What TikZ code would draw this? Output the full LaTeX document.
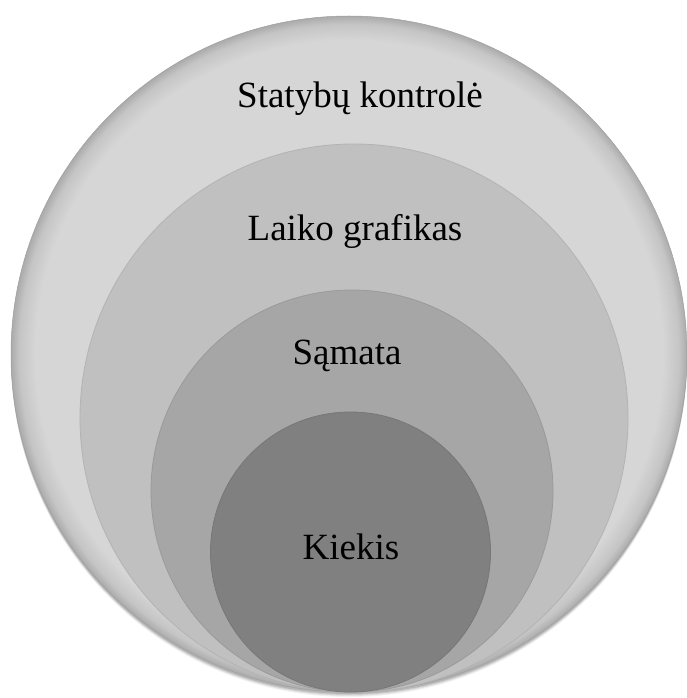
\documentclass[tikz,border=0pt]{standalone}
\usepackage{fontspec}
\setmainfont{Liberation Serif}
\definecolor{ringA}{HTML}{D6D6D6}
\definecolor{ringB}{HTML}{C0C0C0}
\definecolor{ringC}{HTML}{A6A6A6}
\definecolor{ringD}{HTML}{808080}
\pgfdeclareradialshading{rimshade}{\pgfpoint{0bp}{0bp}}{%
  color(0bp)=(ringA); color(23.2bp)=(ringA); color(24.4bp)=(ringA!92!black);
  color(25bp)=(ringA!80!black); color(50bp)=(ringA!80!black)}
\tikzset{
  disc/.style={circle, inner sep=0pt, outer sep=0pt},
  lbl/.style={anchor=base, font=\fontsize{37}{42}\selectfont, text=black}
}
\begin{document}
\begin{tikzpicture}[x=1pt,y=-1pt]
\useasboundingbox (0,0) rectangle (686,698);
% soft bottom shadow
\foreach \d/\o in {5/0.05,4/0.07,3/0.09,2/0.12}{
  \fill[black,opacity=\o] (349,354+\d) circle[radius=338pt];
}
\node[disc, minimum size=676pt, shading=rimshade] (outer) at (349,354) {};
\draw[gray!75, line width=0.5pt] (outer.center) circle[radius=338pt];
\node[disc, minimum size=548pt, fill=ringB, draw=ringB!93!black, line width=0.8pt] (second) at (354,418) {};
\node[disc, minimum size=402pt, fill=ringC, draw=ringC!93!black, line width=0.8pt] (third) at (352,491) {};
\node[disc, minimum size=280pt, fill=ringD, draw=ringD!93!black, line width=0.8pt] (inner) at (350.5,552) {};
\node[lbl] (t1) at (360,107) {Statybų kontrolė};
\node[lbl] (t2) at (355,240) {Laiko grafikas};
\node[lbl] (t3) at (347,364) {Sąmata};
\node[lbl] (t4) at (351,559) {Kiekis};
\end{tikzpicture}
\end{document}
